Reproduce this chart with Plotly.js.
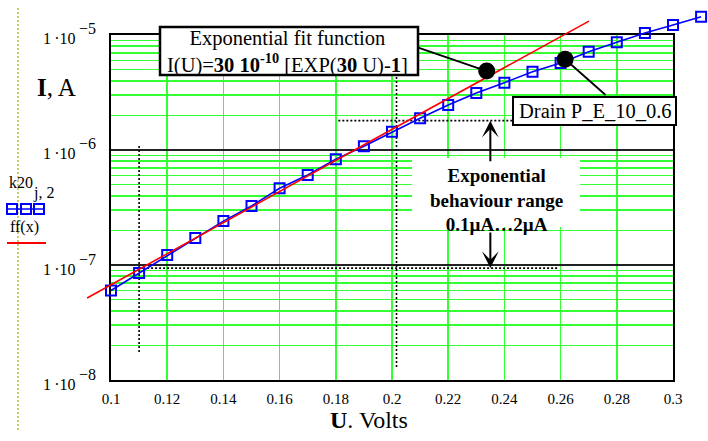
<!DOCTYPE html>
<html><head><meta charset="utf-8">
<script src="https://cdn.plot.ly/plotly-3.0.1.min.js"></script>
<style>html,body{margin:0;padding:0;background:#fff}</style>
</head><body>
<div id="chart" style="width:708px;height:441px"></div>
<script>
// ---- data ----
const voltage = [0.10,0.11,0.12,0.13,0.14,0.15,0.16,0.17,0.18,0.19,0.20,0.21,0.22,0.23,0.24,0.25,0.26,0.27,0.28,0.29,0.30,0.31];
const current = [6.0e-8,8.5e-8,1.22e-7,1.72e-7,2.41e-7,3.26e-7,4.65e-7,6.06e-7,8.3e-7,1.08e-6,1.44e-6,1.89e-6,2.46e-6,3.13e-6,3.85e-6,4.8e-6,5.72e-6,7.16e-6,8.63e-6,1.04e-5,1.22e-5,1.44e-5];
const fitVoltage = [0.0915, 0.192, 0.2701];
const fitCurrent = [5.16e-8, 1.18e-6, 1.32e-5];
const xTickVals = [0.1,0.12,0.14,0.16,0.18,0.2,0.22,0.24,0.26,0.28,0.3];
const xTickText = ['0.1','0.12','0.14','0.16','0.18','0.2','0.22','0.24','0.26','0.28','0.3'];
const yTickVals = [1e-8,1e-7,1e-6,1e-5];
const yTickExp = ['\u22128','\u22127','\u22126','\u22125'];
const minorMult = [2,3,4,5,6,7,8,9];
const rangeLow = 9.4e-8, rangeHigh = 1.8e-6;
const vLine1U = 0.11, vLine1I = [1.75e-8, 1.13e-6];
const vLine2U = 0.2016, vLine2I = [1.3e-8, 4.31e-6];
const hLineHighU = [0.1809, 0.243];
const hLineLowU = [0.11, 0.259];
const arrowU = 0.235;
const dotU = [0.2337, 0.2616];
const dotI = [4.86e-6, 6.15e-6];

// ---- geometry ----
const W = 708, H = 441;
const L = 111, R = 673, T = 35, B = 380;
const px = x => x / W, py = y => 1 - y / H;
const xPerPx = (0.3 - 0.1) / (R - L);
const decPerPx = 3 / (B - T);
const x2range = [0.1 - L * xPerPx, 0.3 + (W - R) * xPerPx];
const y2range = [-8 - (H - B) * decPerPx, -5 + T * decPerPx];

const serif = 'Liberation Serif, Times New Roman, serif';
const green = '#33ff33';

const minorVals = [];
[-8,-7,-6].forEach(d => minorMult.forEach(m => minorVals.push(m * Math.pow(10, d))));

const dotted = {color:'black', width:1.6, dash:'2px,2px'};
const traces = [
  {x:[vLine1U,vLine1U], y:vLine1I, mode:'lines', line:dotted, xaxis:'x', yaxis:'y'},
  {x:[vLine2U,vLine2U], y:vLine2I, mode:'lines', line:dotted, xaxis:'x', yaxis:'y'},
  {x:hLineHighU, y:[rangeHigh,rangeHigh], mode:'lines', line:dotted, xaxis:'x', yaxis:'y'},
  {x:hLineLowU, y:[rangeLow,rangeLow], mode:'lines', line:dotted, xaxis:'x', yaxis:'y'},
  {x:voltage, y:current, mode:'lines+markers', xaxis:'x2', yaxis:'y2',
   line:{color:'#0000ff', width:1.6},
   marker:{symbol:'square-open', size:10, color:'#0000ff', line:{width:2, color:'#0000ff'}}},
  {x:fitVoltage, y:fitCurrent, mode:'lines', xaxis:'x2', yaxis:'y2', line:{color:'#ff0000', width:1.6}},
  {x:dotU, y:dotI, mode:'markers', xaxis:'x2', yaxis:'y2', marker:{size:17, color:'black'}}
];

const ann = [];
yTickVals.forEach((v, i) => {
  ann.push({xref:'paper', x:px(78), xanchor:'right', yanchor:'middle', yref:'y', y:Math.log10(v), yshift:-4,
            text:'1\u2009\u00b710', showarrow:false, font:{family:serif, size:16, color:'black'}});
  ann.push({xref:'paper', x:px(77), xanchor:'left', yanchor:'middle', yref:'y', y:Math.log10(v), yshift:6,
            text:yTickExp[i], showarrow:false, font:{family:serif, size:16, color:'black'}});
});
const txt = (x, y, text, size) => ({xref:'paper', yref:'paper', x:px(x), y:py(y), text,
  xanchor:'center', yanchor:'middle', showarrow:false, font:{family:serif, size, color:'black'}});
ann.push(txt(57, 87, '<b>I</b>, A', 25));
ann.push(txt(369, 420, '<b>U</b>. Volts', 24));
ann.push(txt(287, 52, 'Exponential fit function<br>I(U)=<b>30 10<sup>-10</sup></b> [EXP(<b>30</b> U)-<b>1</b>]', 20.5));
ann.push(txt(595, 111, 'Drain P_E_10_0.6', 20.5));
ann.push(txt(496, 200, '<b>Exponential<br>behaviour range<br>0.1\u00b5A\u20262\u00b5A</b>', 19));
ann.push(txt(21, 182, 'k20', 16));
ann.push(txt(43, 193, 'j, 2', 16));
ann.push(txt(24, 227, 'ff(x)', 16));
// arrows
const arrowBase = {xref:'x', yref:'y', text:'', showarrow:true, arrowcolor:'black', arrowwidth:2, arrowhead:3, arrowsize:1.4, ax:0};
ann.push(Object.assign({}, arrowBase, {x:arrowU, y:Math.log10(rangeHigh), ay:42}));
ann.push(Object.assign({}, arrowBase, {x:arrowU, y:Math.log10(rangeLow), ay:-37}));
// connectors to dots
ann.push({xref:'x', yref:'y', x:dotU[0], y:Math.log10(dotI[0]), text:'', showarrow:true, arrowhead:0, arrowwidth:1.8, arrowcolor:'black', ax:-70, ay:-24});
ann.push({xref:'x', yref:'y', x:dotU[1], y:Math.log10(dotI[1]), text:'', showarrow:true, arrowhead:0, arrowwidth:1.8, arrowcolor:'black', ax:42, ay:37});

const rect = (x0, y0, x1, y1, line, fill) => ({type:'rect', xref:'paper', yref:'paper',
  x0:px(x0), x1:px(x1), y0:py(y1), y1:py(y0), line, fillcolor:fill, layer:'above'});
const seg = (x0, y0, x1, y1, line) => ({type:'line', xref:'paper', yref:'paper',
  x0:px(x0), x1:px(x1), y0:py(y0), y1:py(y1), line, layer:'above'});
const shapes = [
  seg(18, 8, 18, 432, {color:'#b4c03c', width:1.5, dash:'2px,2px'}),
  rect(412, 158, 580, 227, {width:0}, 'white'),
  rect(160, 27, 418, 75, {color:'black', width:2.5}, 'white'),
  rect(513, 97, 676, 125, {color:'black', width:2}, 'white'),
  seg(7, 209, 45, 209, {color:'#0000ff', width:1.6}),
  rect(7, 204, 17, 214, {color:'#0000ff', width:2}, 'rgba(0,0,0,0)'),
  rect(21, 204, 31, 214, {color:'#0000ff', width:2}, 'rgba(0,0,0,0)'),
  rect(34, 204, 44, 214, {color:'#0000ff', width:2}, 'rgba(0,0,0,0)'),
  seg(7, 243, 46, 243, {color:'#ff0000', width:2})
];

const layout = {
  width:W, height:H, margin:{l:0, r:0, t:0, b:0},
  paper_bgcolor:'white', plot_bgcolor:'rgba(0,0,0,0)', showlegend:false,
  xaxis:{domain:[px(L), px(R)], anchor:'y', range:[0.1, 0.3], tickmode:'array', tickvals:xTickVals, ticktext:xTickText,
         showgrid:true, gridcolor:green, gridwidth:1.5, zeroline:false, showline:true, mirror:true, linecolor:'black', linewidth:2,
         ticks:'', ticklabelstandoff:4, tickfont:{family:serif, size:15, color:'black'}},
  yaxis:{domain:[py(B), py(T)], anchor:'x', type:'log', range:[-8, -5], tickmode:'array', tickvals:yTickVals,
         showticklabels:false, showgrid:true, gridcolor:'#222', gridwidth:1.5, zeroline:false,
         showline:true, mirror:true, linecolor:'black', linewidth:2, ticks:'',
         minor:{tickmode:'array', tickvals:minorVals, showgrid:true, gridcolor:green, gridwidth:1.5, ticks:''}},
  xaxis2:{domain:[0,1], anchor:'y2', range:x2range, visible:false, fixedrange:true},
  yaxis2:{domain:[0,1], anchor:'x2', type:'log', range:y2range, visible:false, fixedrange:true},
  annotations:ann, shapes:shapes
};
Plotly.newPlot('chart', traces, layout, {staticPlot:true, displayModeBar:false});
</script>
</body></html>
